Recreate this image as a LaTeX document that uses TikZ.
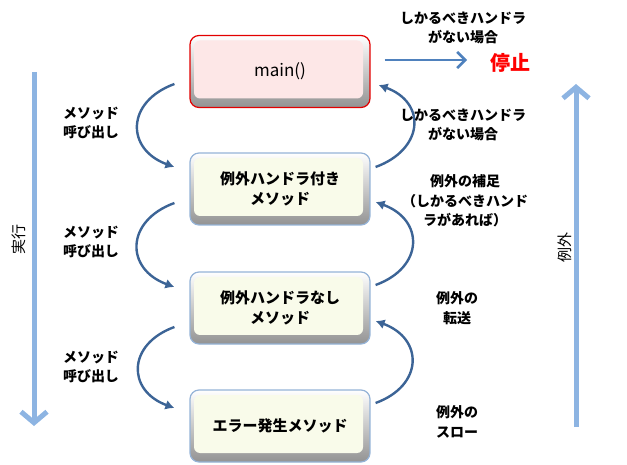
\documentclass[tikz,border=0pt]{standalone}
\usepackage{fontspec}
\setmainfont{Noto Sans CJK JP}
\usetikzlibrary{arrows.meta, positioning}
\usepackage{xcolor}
\definecolor{methodEdge}{RGB}{149, 179, 215}
\definecolor{methodFill}{RGB}{249, 251, 234}
\definecolor{mainEdge}{RGB}{226, 0, 0}
\definecolor{mainFill}{RGB}{253, 231, 231}
\definecolor{callBlue}{RGB}{60, 100, 150}
\definecolor{haltBlue}{RGB}{79, 129, 189}
\definecolor{flowBlue}{RGB}{141, 180, 226}
\colorlet{bevel dark}{gray!85}
\tikzset{
    bevel/.style={path picture={
        \fill[#1, rounded corners=6pt]
            ([shift={(4pt,-5pt)}]path picture bounding box.north west)
            rectangle ([shift={(-7pt,9pt)}]path picture bounding box.south east);}},
    methodbox/.style={draw=methodEdge, line width=1.2pt, rounded corners=9pt,
        top color=white, bottom color=bevel dark, bevel=methodFill,
        minimum width=180pt, minimum height=72pt, align=center,
        font=\fontsize{15}{20}\selectfont\bfseries},
    mainbox/.style={methodbox, draw=mainEdge, bevel=mainFill,
        font=\fontsize{17}{20}\selectfont},
    note/.style={align=center, font=\fontsize{14}{19.5}\selectfont\bfseries},
    callarrow/.style={draw=callBlue, line width=2.4pt, -{Latex[length=9pt,width=10pt]}},
    haltarrow/.style={draw=haltBlue, line width=2.6pt, -{Straight Barb[length=8pt,width=16pt]}},
    flowarrow/.style={draw=flowBlue, line width=5pt, -{Straight Barb[length=11pt,width=26pt]}}
}

\begin{document}
\begin{tikzpicture}[x=1pt, y=-1pt]
    \useasboundingbox (0,0) rectangle (627,465);

    % Draw the method boxes, one above the other
    \node[mainbox] (main) at (280,71.5) {main()};
    \node[methodbox] (catcher) at (280,189) {例外ハンドラ付き\\メソッド};
    \node[methodbox] (passer) at (280,308) {例外ハンドラなし\\メソッド};
    \node[methodbox] (thrower) at (280,426) {エラー発生メソッド};

    % Calls on the left
    \draw[callarrow] ([xshift=-15pt,yshift=-12.5pt]main.west)
        to[out=200, in=160, looseness=1.6] ([xshift=-15pt,yshift=22pt]catcher.west);
    \draw[callarrow] ([xshift=-15pt,yshift=-14pt]catcher.west)
        to[out=200, in=160, looseness=1.6] ([xshift=-15pt,yshift=21pt]passer.west);
    \draw[callarrow] ([xshift=-15pt,yshift=-19pt]passer.west)
        to[out=200, in=160, looseness=1.6] ([xshift=-15pt,yshift=18pt]thrower.west);
    \node[note] (call1) at (91,123) {メソッド\\呼び出し};
    \node[note] (call2) at (91,242) {メソッド\\呼び出し};
    \node[note] (call3) at (91,367) {メソッド\\呼び出し};

    % Exceptions on the right
    \draw[callarrow] ([xshift=5pt,yshift=23pt]thrower.east)
        to[out=20, in=-20, looseness=1.6] ([xshift=5pt,yshift=-13pt]passer.east);
    \draw[callarrow] ([xshift=5pt,yshift=23pt]passer.east)
        to[out=20, in=-20, looseness=1.6] ([xshift=5pt,yshift=-13pt]catcher.east);
    \draw[callarrow] ([xshift=5pt,yshift=22pt]catcher.east)
        to[out=20, in=-20, looseness=1.6] ([xshift=8pt,yshift=-13.5pt]main.east);
    \node[note] (throw) at (457,422) {例外の\\スロー};
    \node[note] (pass) at (457,308) {例外の\\転送};
    \node[note] (catch) at (465,201) {例外の補足\\（しかるべきハンド\\ラがあれば）};
    \node[note] (nohandler) at (463,125) {しかるべきハンドラ\\がない場合};

    % Program halts
    \node[note] (nohandlertop) at (463,28) {しかるべきハンドラ\\がない場合};
    \node[text=red, font=\fontsize{20}{21}\selectfont\bfseries] (halt) at (510,63) {停止};
    \coordinate (haltend) at (467,60);
    \draw[haltarrow] ([xshift=14pt,yshift=11.5pt]main.east) -- (haltend);

    % Direction of execution and of the exception
    \coordinate (runtop) at (34,72);
    \coordinate (runbottom) at (34,426);
    \draw[flowarrow] (runtop) -- (runbottom);
    \node[rotate=90, font=\fontsize{15}{16}\selectfont] (run) at (19,240) {実行};
    \coordinate (exbottom) at (576,427);
    \coordinate (extop) at (576,84);
    \draw[flowarrow] (exbottom) -- (extop);
    \node[rotate=90, font=\fontsize{15}{16}\selectfont] (ex) at (565,248) {例外};
\end{tikzpicture}
\end{document}
